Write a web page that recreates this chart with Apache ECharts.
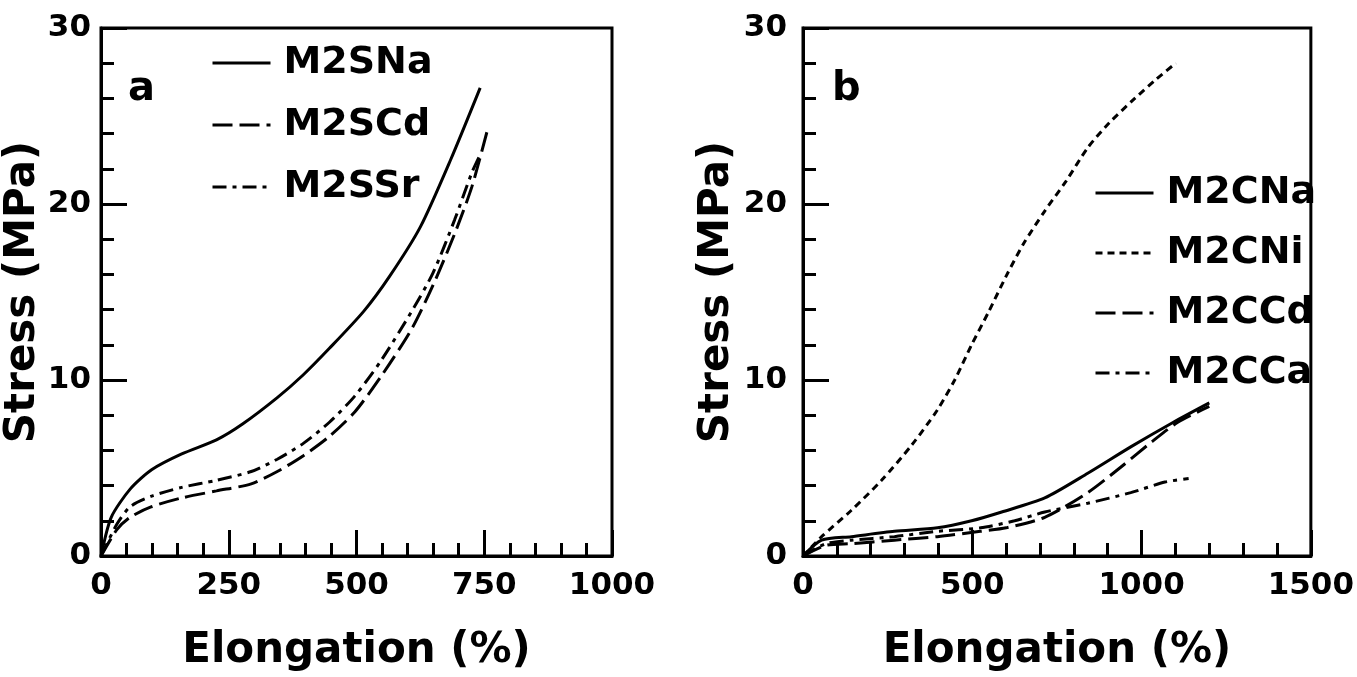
<!DOCTYPE html>
<html><head><meta charset="utf-8">
<script src="https://cdn.jsdelivr.net/npm/echarts@6/dist/echarts.min.js"></script>
<style>html,body{margin:0;padding:0;background:#fff}#c{width:1357px;height:677px}</style>
</head><body><div id="c"></div>
<script>
// Panel a: elongation (%) vs stress (MPa)
const M2SNa = [[0,0],[20,2.2],[57,3.8],[99,4.9],[158,5.8],[226,6.6],[277,7.5],[345,9.0],[396,10.3],[447,11.8],[514,13.9],[565,15.9],[625,18.7],[684,22.5],[742,26.6]];
const M2SCd = [[0,0],[31,1.5],[57,2.2],[99,2.8],[158,3.3],[226,3.7],[294,4.1],[345,4.8],[396,5.7],[447,6.8],[497,8.2],[548,10.2],[608,12.9],[650,15.4],[692,18.3],[726,21.0],[758,24.4]];
const M2SSr = [[0,0],[31,1.8],[57,2.8],[99,3.4],[158,3.9],[226,4.3],[294,4.8],[345,5.5],[396,6.4],[447,7.6],[497,9.1],[548,11.1],[608,13.9],[650,16.1],[692,19.1],[726,21.8],[742,22.8]];
// Panel b
const M2CNa = [[0,0],[55,0.9],[143,1.1],[270,1.4],[397,1.6],[498,2.0],[587,2.5],[714,3.3],[841,4.7],[968,6.2],[1094,7.6],[1200,8.7]];
const M2CNi = [[0,0],[55,1.1],[143,2.6],[232,4.3],[321,6.3],[397,8.3],[448,10.0],[498,12.0],[549,13.9],[600,15.9],[650,17.7],[714,19.6],[777,21.3],[841,23.2],[904,24.6],[980,26.0],[1044,27.1],[1101,28.0]];
const M2CCd = [[0,0],[67,0.6],[143,0.7],[270,0.9],[397,1.1],[524,1.4],[600,1.6],[714,2.2],[841,3.6],[942,5.1],[1031,6.5],[1107,7.6],[1200,8.5]];
const M2CCa = [[0,0],[67,0.7],[143,0.9],[270,1.1],[397,1.4],[524,1.6],[625,2.0],[714,2.5],[841,3.0],[968,3.6],[1069,4.2],[1139,4.4]];

const legendA = ['M2SNa','M2SCd','M2SSr'];
const legendB = ['M2CNa','M2CNi','M2CCd','M2CCa'];

const FONT = 'DejaVu Sans';
const black = '#000';

function xAxis(idx, max, interval, nameGap){
  return {
    type:'value', gridIndex:idx, min:0, max:max, interval:interval,
    name:'Elongation (%)', nameLocation:'middle', nameGap:nameGap,
    nameTextStyle:{fontFamily:FONT, fontWeight:'bold', fontSize:42, color:black},
    axisLine:{show:true, lineStyle:{color:black, width:3}},
    axisTick:{show:true, inside:true, length:26, lineStyle:{color:black, width:3}},
    minorTick:{show:true, splitNumber:5, length:13, lineStyle:{color:black, width:3}},
    splitLine:{show:false},
    axisLabel:{margin:14, fontFamily:FONT, fontWeight:'bold', fontSize:31, color:black, formatter:(v)=>String(v)}
  };
}
function yAxis(idx, nameGap, margin){
  return {
    type:'value', gridIndex:idx, min:0, max:30, interval:10,
    name:'Stress (MPa)', nameLocation:'middle', nameGap:nameGap,
    nameTextStyle:{fontFamily:FONT, fontWeight:'bold', fontSize:42, color:black},
    axisLine:{show:true, lineStyle:{color:black, width:3}},
    axisTick:{show:true, inside:true, length:26, lineStyle:{color:black, width:3}},
    minorTick:{show:true, splitNumber:5, length:13, lineStyle:{color:black, width:3}},
    splitLine:{show:false},
    axisLabel:{margin:margin, fontFamily:FONT, fontWeight:'bold', fontSize:31, color:black, formatter:(v)=>String(v)}
  };
}
function series(name, data, idx, type){
  return {
    type:'line', name:name, data:data, xAxisIndex:idx, yAxisIndex:idx,
    symbol:'none', showSymbol:false, smooth:0.25, animation:false,
    lineStyle:{color:black, width:3, type:type},
    itemStyle:{color:black}
  };
}
function legend(names, left, top, gap){
  return {
    data:names, orient:'vertical', left:left, top:top, selectedMode:false,
    itemWidth:58, itemHeight:14, itemGap:gap,
    itemStyle:{color:'rgba(0,0,0,0)', borderWidth:0, borderColor:'rgba(0,0,0,0)'},
    lineStyle:{color:black, width:3},
    textStyle:{fontFamily:FONT, fontWeight:'bold', fontSize:38, color:black, padding:[0,0,0,8]}
  };
}

const chart = echarts.init(document.getElementById('c'), null, {renderer:'canvas'});
chart.setOption({
  backgroundColor:'#fff',
  animation:false,
  grid:[
    {left:101, top:28, width:511, height:528, show:true, borderColor:black, borderWidth:3, backgroundColor:'transparent'},
    {left:803, top:28, width:510, height:528, show:true, borderColor:black, borderWidth:3, backgroundColor:'transparent'}
  ],
  xAxis:[xAxis(0, 1000, 250, 74), xAxis(1, 1500, 500, 74)],
  yAxis:[yAxis(0, 44, 10), yAxis(1, 65, 16)],
  legend:[legend(legendA, 206, 39, 24), legend(legendB, 1089, 169, 22)],
  graphic:[
    {type:'text', x:128, y:90, style:{text:'a', font:'bold 40px "DejaVu Sans"', fill:black, verticalAlign:'middle', textVerticalAlign:'middle'}},
    {type:'text', x:832, y:90, style:{text:'b', font:'bold 40px "DejaVu Sans"', fill:black, verticalAlign:'middle', textVerticalAlign:'middle'}}
  ],
  series:[
    series('M2SNa', M2SNa, 0, 'solid'),
    series('M2SCd', M2SCd, 0, [20,7]),
    series('M2SSr', M2SSr, 0, [14,6,4,6]),
    series('M2CNa', M2CNa, 1, 'solid'),
    series('M2CNi', M2CNi, 1, [7,5]),
    series('M2CCd', M2CCd, 1, [20,7]),
    series('M2CCa', M2CCa, 1, [14,6,4,6])
  ]
});
</script>
</body></html>
